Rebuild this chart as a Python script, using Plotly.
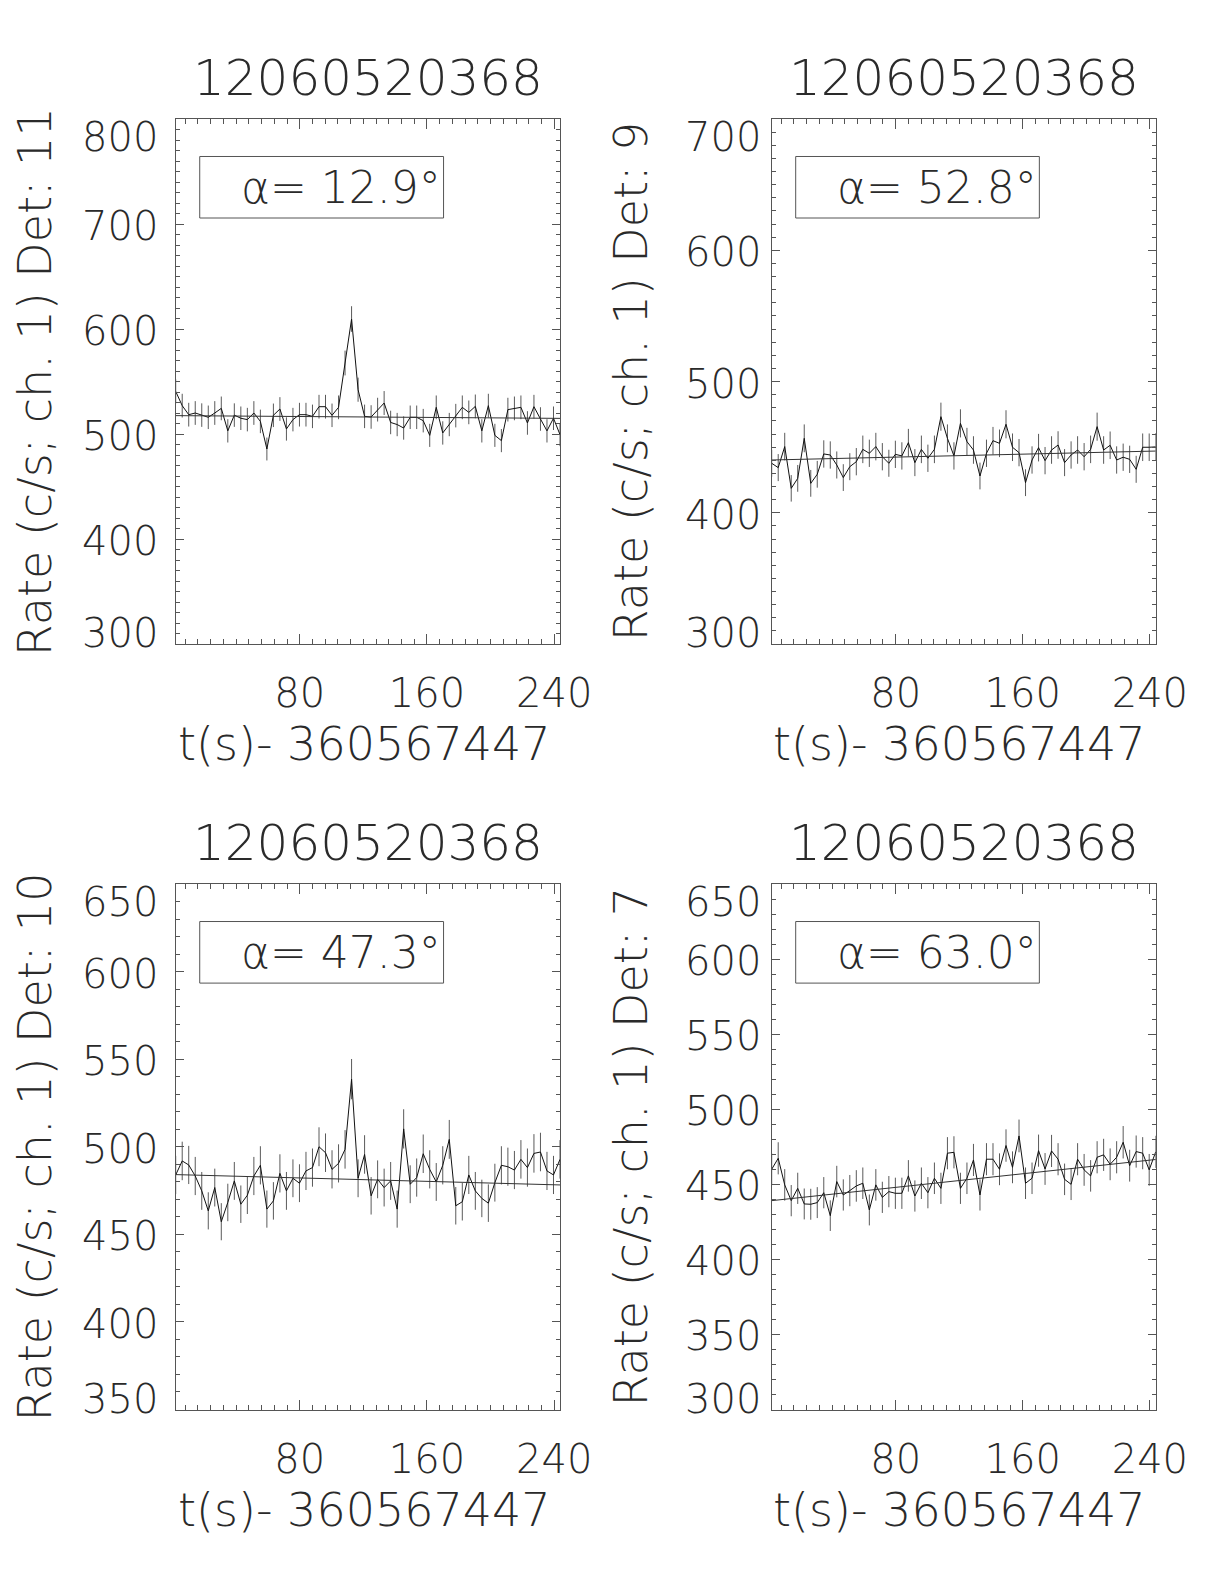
import plotly.graph_objects as go

# ---------------- data ----------------
BIN = 4.096
T0 = 2.0
N = 60
TIME = [T0 + BIN * i for i in range(N)]  # bin times (s) relative to 360567447

TITLE = "12060520368"
XLABEL = "t(s)- 360567447"
XTICKS = [80, 160, 240]

DETS = ["11", "9", "10", "7"]
ALPHAS = ["12.9", "52.8", "47.3", "63.0"]
YRANGES = [(300, 800), (300, 700), (350, 650), (300, 650)]
YMAJOR = [100, 100, 50, 50]

RATE_D11 = [540.6, 527, 518.4, 520, 518, 515.9, 520, 524.4, 503, 518,
            515, 513.7, 520, 512, 485.7, 517.8, 523.8, 504.8, 513.7, 518.4,
            518.4, 516.8, 526, 526, 517.8, 525.4, 567.6, 609.5, 542.2, 516.8,
            516.2, 523.2, 529.5, 511, 509, 505.7, 515.9, 515.9, 512.7, 498.7,
            525.4, 501, 509, 517.5, 525.4, 520.6, 526.3, 503, 527, 498.7,
            493.7, 523.2, 524.4, 525.4, 510.5, 526, 514.3, 503, 515, 499.4]
ERR_D11 = [11.5, 11.3, 11.3, 11.3, 11.2, 11.2, 11.3, 11.3, 11.1, 11.2,
           11.2, 11.2, 11.3, 11.2, 10.9, 11.2, 11.3, 11.1, 11.2, 11.3,
           11.3, 11.2, 11.3, 11.3, 11.2, 11.3, 11.8, 12.2, 11.5, 11.2,
           11.2, 11.3, 11.4, 11.2, 11.1, 11.1, 11.2, 11.2, 11.2, 11.0,
           11.3, 11.1, 11.1, 11.2, 11.3, 11.3, 11.3, 11.1, 11.3, 11.0,
           11.0, 11.3, 11.3, 11.3, 11.2, 11.3, 11.2, 11.1, 11.2, 11.0]

RATE_D9 = [437.7, 434.4, 450.4, 418.6, 426.2, 456.7, 422.4, 429.3, 444.8, 444,
           436.4, 426.8, 435.1, 438.9, 448.3, 445.3, 450.4, 442.7, 437.7, 444.5,
           443.3, 453.4, 438.2, 448.3, 441.5, 448.3, 473.2, 456.7, 443.3, 468.1,
           454.2, 447.8, 428, 445.3, 454.9, 452.9, 467.4, 449.9, 445.8, 422.9,
           440.2, 449.6, 439.7, 447.8, 451.6, 438.2, 444, 447.8, 442.7, 448.3,
           465.6, 447.8, 451.4, 440.2, 442.3, 440.7, 433.1, 449.9, 449.9, 450.2]
ERR_D9 = [10.3, 10.3, 10.5, 10.1, 10.2, 10.6, 10.2, 10.2, 10.4, 10.4,
          10.3, 10.2, 10.3, 10.4, 10.5, 10.4, 10.5, 10.4, 10.3, 10.4,
          10.4, 10.5, 10.3, 10.5, 10.4, 10.5, 10.7, 10.6, 10.4, 10.7,
          10.5, 10.5, 10.2, 10.4, 10.5, 10.5, 10.7, 10.5, 10.4, 10.2,
          10.4, 10.5, 10.4, 10.5, 10.5, 10.3, 10.4, 10.5, 10.4, 10.5,
          10.7, 10.5, 10.5, 10.4, 10.4, 10.4, 10.3, 10.5, 10.5, 10.5]

RATE_D10 = [483.9, 491.9, 489.6, 483.3, 474.8, 463.4, 476.7, 457.2, 468.2, 480.5,
            467.2, 472.3, 483.3, 489.4, 464.4, 469.1, 484.8, 474.8, 482, 479.2,
            486.2, 488.1, 500, 496.6, 487.1, 490.5, 498.5, 538.6, 482, 495.6,
            472, 481.4, 476.7, 480.5, 464.4, 510.2, 478.6, 482.4, 496, 487.1,
            479.9, 489.4, 504.2, 466.3, 468.6, 483.9, 474.8, 470.5, 467.8, 479.5,
            489.4, 488.6, 486.7, 492.8, 488.1, 496.2, 497, 486.2, 483.9, 492.8]
ERR_D10 = [10.9, 11.0, 10.9, 10.9, 10.8, 10.6, 10.8, 10.6, 10.7, 10.8,
           10.7, 10.7, 10.9, 10.9, 10.6, 10.7, 10.9, 10.8, 10.8, 10.8,
           10.9, 10.9, 11.1, 11.0, 10.9, 10.9, 11.0, 11.5, 10.8, 11.0,
           10.7, 10.8, 10.8, 10.8, 10.6, 11.2, 10.8, 10.9, 11.0, 10.9,
           10.8, 10.9, 11.1, 10.7, 10.7, 10.9, 10.8, 10.7, 10.7, 10.8,
           10.9, 10.9, 10.9, 11.0, 10.9, 11.0, 11.0, 10.9, 10.9, 11.0]

RATE_D7 = [460, 467.3, 449.6, 439.1, 447.3, 436.9, 436.7, 437.8, 444.4, 429.1,
           451.8, 442.9, 445.8, 448.9, 450.7, 432.9, 449.6, 441.3, 445.1, 444,
           444, 455.6, 442.2, 450.7, 444.4, 454, 447.3, 470.7, 471.3, 447.3,
           454, 466.2, 442.9, 466.7, 466.7, 460, 475.8, 461.3, 482.2, 450.7,
           454, 472.4, 460.2, 472.2, 466.7, 453.3, 450, 466.7, 459.6, 455.6,
           468, 469.6, 463.3, 468, 478, 462.4, 471.8, 470.7, 459.6, 471.6]
ERR_D7 = [10.6, 10.7, 10.5, 10.4, 10.4, 10.3, 10.3, 10.3, 10.4, 10.2,
          10.5, 10.4, 10.4, 10.5, 10.5, 10.3, 10.5, 10.4, 10.4, 10.4,
          10.4, 10.5, 10.4, 10.5, 10.4, 10.5, 10.4, 10.7, 10.7, 10.4,
          10.5, 10.7, 10.4, 10.7, 10.7, 10.6, 10.8, 10.6, 10.9, 10.5,
          10.5, 10.7, 10.6, 10.7, 10.7, 10.5, 10.5, 10.7, 10.6, 10.5,
          10.7, 10.7, 10.6, 10.7, 10.8, 10.6, 10.7, 10.7, 10.6, 10.7]

# linear background fit: value at first and last bin
BKG_D11 = [517.5, 514.9]
BKG_D9 = [440.2, 447.0]
BKG_D10 = [484.1, 478.2]
BKG_D7 = [439.1, 466.5]

RATES = [RATE_D11, RATE_D9, RATE_D10, RATE_D7]
ERRS = [ERR_D11, ERR_D9, ERR_D10, ERR_D7]
BKGS = [BKG_D11, BKG_D9, BKG_D10, BKG_D7]

# ---------------- layout ----------------
W, H = 1224, 1584
XDOM = [(175.7 / W, 560.0 / W), (771.7 / W, 1155.7 / W)]
YDOM = [(1 - 644.0 / H, 1 - 119.0 / H), (1 - 1409.5 / H, 1 - 884.0 / H)]
YLAB_GAP = [-16, -9]

FONT = "DejaVu Sans"
TXT = "#2a2a2a"
AXC = "#555555"

fig = go.Figure()
annotations = []
shapes = []

for k in range(4):
    ax = k + 1
    xs = "" if ax == 1 else str(ax)
    col = k % 2
    row = k // 2
    xref = "x" + xs
    yref = "y" + xs

    fig.add_trace(go.Scatter(
        x=TIME, y=RATES[k], mode="lines",
        line=dict(color="#111111", width=1),
        error_y=dict(type="data", array=ERRS[k], visible=True,
                     color="#5a5a5a", thickness=1, width=0),
        xaxis=xref, yaxis=yref, showlegend=False, hoverinfo="skip"))
    fig.add_trace(go.Scatter(
        x=[TIME[0], TIME[-1]], y=BKGS[k], mode="lines",
        line=dict(color="#333333", width=1),
        xaxis=xref, yaxis=yref, showlegend=False, hoverinfo="skip"))

    ymin, ymax = YRANGES[k]
    fig.update_layout(**{
        "xaxis" + xs: dict(
            domain=list(XDOM[col]), anchor=yref, automargin=False,
            range=[TIME[0], TIME[-1]],
            showline=True, linecolor=AXC, linewidth=1, mirror="allticks",
            ticks="inside", ticklen=10, tickwidth=1, tickcolor=AXC,
            tickvals=XTICKS, ticktext=[str(v) for v in XTICKS],
            tickfont=dict(family=FONT, size=40, color=TXT, weight=200),
            ticklabelstandoff=14,
            minor=dict(ticks="inside", ticklen=5, tickwidth=1, tickcolor=AXC,
                       tick0=0, dtick=8, showgrid=False),
            showgrid=False, zeroline=False, fixedrange=True),
        "yaxis" + xs: dict(
            domain=list(YDOM[row]), anchor=xref, automargin=False,
            range=[ymin, ymax],
            showline=True, linecolor=AXC, linewidth=1, mirror="allticks",
            ticks="inside", ticklen=8, tickwidth=1, tickcolor=AXC,
            tick0=ymin, dtick=YMAJOR[k], showticklabels=False,
            minor=dict(ticks="inside", ticklen=4, tickwidth=1, tickcolor=AXC,
                       tick0=ymin, dtick=10, showgrid=False),
            showgrid=False, zeroline=False, fixedrange=True),
    })

    # y tick labels
    v = ymin
    while v <= ymax:
        if v == ymax:
            ysh = -18
        elif v == ymin:
            ysh = 11
        else:
            ysh = -2
        annotations.append(dict(
            xref=xref + " domain", yref=yref, x=0, y=v, xanchor="right",
            yanchor="middle", xshift=YLAB_GAP[col], yshift=ysh, showarrow=False,
            text=str(v), font=dict(family=FONT, size=40, color=TXT, weight=200)))
        v += YMAJOR[k]

    # title
    annotations.append(dict(
        xref=xref + " domain", yref=yref + " domain", x=0.5, y=1,
        xanchor="center", yanchor="middle", yshift=41, showarrow=False,
        text=TITLE, font=dict(family=FONT, size=50, color=TXT, weight=200)))
    # x title
    annotations.append(dict(
        xref=xref + " domain", yref=yref + " domain", x=0.49, y=0,
        xanchor="center", yanchor="middle", yshift=-100, showarrow=False,
        text=XLABEL, font=dict(family=FONT, size=46, color=TXT, weight=200)))
    # y title
    annotations.append(dict(
        xref=xref + " domain", yref=yref + " domain", x=0, y=0.5,
        xanchor="center", yanchor="middle", xshift=-141, showarrow=False,
        textangle=-90,
        text="Rate (c/s; ch. 1) Det: " + DETS[k],
        font=dict(family=FONT, size=46, color=TXT, weight=200)))
    # alpha box
    shapes.append(dict(
        type="rect", xref=xref + " domain", yref=yref + " domain",
        x0=0.0625, x1=0.697, y0=0.8114, y1=0.9286,
        line=dict(color=AXC, width=1), fillcolor="rgba(0,0,0,0)"))
    annotations.append(dict(
        xref=xref + " domain", yref=yref + " domain", x=0.43, y=0.870,
        xanchor="center", yanchor="middle", showarrow=False,
        text="α= " + ALPHAS[k] + "°",
        font=dict(family=FONT, size=44, color=TXT, weight=200)))

fig.update_layout(
    width=W, height=H, autosize=False,
    margin=dict(l=0, r=0, t=0, b=0, pad=0, autoexpand=False),
    paper_bgcolor="white", plot_bgcolor="white",
    annotations=annotations, shapes=shapes, showlegend=False)

fig.write_html(
    "out.html",
    config={"responsive": False, "displayModeBar": False},
    post_script="document.body.style.margin='0';document.body.style.overflow='hidden';",
)
